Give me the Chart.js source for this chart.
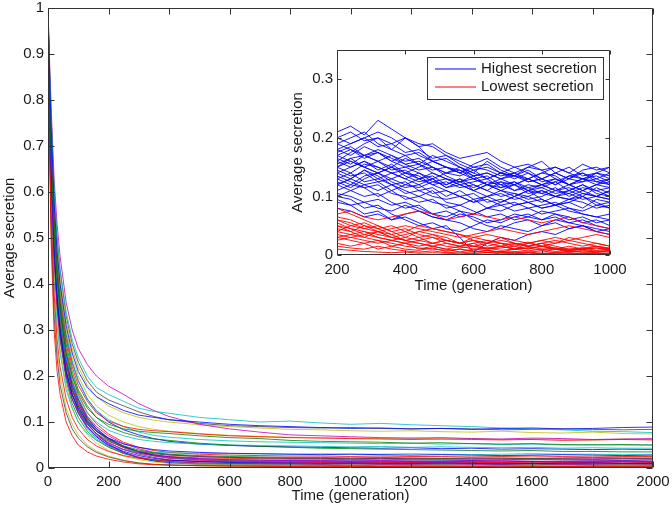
<!DOCTYPE html>
<html><head><meta charset="utf-8">
<script src="https://cdn.jsdelivr.net/npm/chart.js@4.4.1/dist/chart.umd.min.js"></script>
<style>
html,body{margin:0;padding:0;background:#fff;}
#wrap{position:relative;width:672px;height:510px;overflow:hidden;}
#main{position:absolute;left:0;top:0;width:672px;height:510px;}
#inset{position:absolute;left:285px;top:40px;width:345px;height:265px;}
</style></head><body>
<div id="wrap"><canvas id="main" width="672" height="510"></canvas><canvas id="inset" width="345" height="265"></canvas></div>
<script>
// ---------- Main chart data ----------
const gens = [0,5,10,20,30,40,60,80,100,130,160,200,250,300,350,400,500,600,700,800,900,1000,1100,1200,1300,1400,1500,1600,1700,1800,1900,2000];
const s01 = [0.99,0.86,0.75,0.58,0.47,0.4,0.31,0.25,0.21,0.175,0.155,0.14,0.125,0.115,0.11,0.105, 0.1,0.095,0.092,0.09,0.088,0.086,0.087,0.085,0.086,0.084,0.086,0.087,0.085,0.086,0.088,0.089];
const s02 = [0.98,0.82,0.7,0.52,0.41,0.34,0.25,0.2,0.165,0.13,0.11,0.095,0.085,0.08,0.077,0.075, 0.07,0.066,0.064,0.06,0.058,0.057,0.056,0.054,0.055,0.053,0.052,0.053,0.051,0.05,0.051,0.05];
const s03 = [0.98,0.7,0.5,0.3,0.21,0.16,0.1,0.07,0.05,0.035,0.026,0.019,0.013,0.009,0.007,0.006, 0.005,0.004,0.004,0.003,0.004,0.003,0.003,0.004,0.003,0.003,0.004,0.003,0.003,0.004,0.003,0.004];
const s04 = [1.0,0.87,0.77,0.61,0.5,0.43,0.34,0.28,0.24,0.2,0.175,0.16,0.145,0.13,0.123,0.119, 0.11,0.105,0.1,0.102,0.098,0.095,0.097,0.094,0.092,0.09,0.087,0.085,0.083,0.08,0.079,0.077];
const s05 = [1.0,0.89,0.79,0.63,0.53,0.46,0.36,0.3,0.26,0.225,0.2,0.178,0.16,0.14,0.125,0.112, 0.095,0.085,0.078,0.072,0.07,0.068,0.066,0.065,0.066,0.064,0.063,0.065,0.064,0.062,0.063,0.064];
const s06 = [0.99,0.86,0.76,0.59,0.48,0.41,0.32,0.26,0.22,0.18,0.155,0.135,0.12,0.11,0.104,0.1, 0.094,0.09,0.087,0.084,0.083,0.081,0.08,0.081,0.079,0.078,0.08,0.077,0.076,0.078,0.075,0.074];
const s07 = [0.99,0.87,0.77,0.6,0.5,0.43,0.33,0.27,0.23,0.19,0.165,0.148,0.135,0.122,0.112,0.105, 0.097,0.092,0.09,0.088,0.087,0.088,0.086,0.085,0.086,0.085,0.083,0.084,0.085,0.084,0.083,0.084];
const s08 = [0.99,0.8,0.66,0.48,0.37,0.3,0.21,0.16,0.13,0.1,0.08,0.065,0.052,0.045,0.04,0.037, 0.034,0.032,0.031,0.03,0.029,0.03,0.029,0.028,0.029,0.028,0.027,0.028,0.029,0.028,0.027,0.028];
const s09 = [0.98,0.83,0.71,0.54,0.43,0.36,0.27,0.21,0.17,0.135,0.11,0.09,0.077,0.068,0.063,0.06, 0.054,0.05,0.047,0.045,0.043,0.042,0.041,0.04,0.039,0.038,0.037,0.038,0.036,0.036,0.035,0.035];
const s10 = [0.99,0.84,0.72,0.55,0.44,0.37,0.28,0.22,0.18,0.145,0.12,0.102,0.09,0.084,0.081,0.079, 0.074,0.07,0.068,0.066,0.065,0.064,0.063,0.062,0.063,0.062,0.061,0.062,0.06,0.061,0.062,0.061];
const s11 = [0.99,0.82,0.69,0.51,0.4,0.33,0.24,0.19,0.155,0.12,0.1,0.082,0.07,0.062,0.058,0.055, 0.052,0.05,0.049,0.048,0.047,0.046,0.047,0.045,0.046,0.045,0.044,0.045,0.043,0.044,0.043,0.043];
const s12 = [0.98,0.78,0.64,0.46,0.35,0.28,0.2,0.15,0.12,0.09,0.07,0.054,0.04,0.032,0.027,0.024, 0.02,0.018,0.017,0.016,0.016,0.015,0.016,0.015,0.014,0.015,0.016,0.015,0.014,0.015,0.015,0.014];
const s13 = [0.99,0.85,0.74,0.57,0.46,0.39,0.3,0.24,0.2,0.16,0.135,0.115,0.1,0.09,0.084,0.08, 0.075,0.071,0.069,0.067,0.066,0.065,0.064,0.065,0.063,0.064,0.062,0.063,0.062,0.061,0.063,0.062];
const s14 = [0.98,0.79,0.65,0.47,0.36,0.29,0.21,0.16,0.125,0.095,0.075,0.058,0.045,0.036,0.031,0.028, 0.025,0.023,0.022,0.021,0.021,0.02,0.021,0.02,0.02,0.019,0.02,0.021,0.02,0.019,0.02,0.02];
const s15 = [0.99,0.79,0.65,0.47,0.36,0.29,0.2,0.15,0.12,0.088,0.068,0.05,0.036,0.027,0.021,0.017, 0.014,0.012,0.011,0.011,0.01,0.011,0.01,0.01,0.011,0.01,0.009,0.01,0.01,0.011,0.01,0.01];
const s16 = [0.98,0.8,0.67,0.49,0.38,0.31,0.22,0.17,0.135,0.102,0.08,0.062,0.048,0.039,0.033,0.03, 0.027,0.025,0.024,0.023,0.023,0.022,0.023,0.022,0.021,0.022,0.022,0.021,0.022,0.023,0.022,0.022];
const s17 = [0.98,0.74,0.57,0.38,0.28,0.22,0.15,0.11,0.085,0.062,0.048,0.036,0.027,0.021,0.018,0.016, 0.015,0.014,0.013,0.013,0.012,0.013,0.012,0.012,0.013,0.012,0.012,0.011,0.012,0.012,0.013,0.012];
const s18 = [0.98,0.76,0.6,0.41,0.31,0.25,0.17,0.13,0.1,0.075,0.06,0.048,0.04,0.036,0.034,0.033, 0.032,0.031,0.031,0.03,0.031,0.03,0.03,0.031,0.03,0.029,0.03,0.031,0.03,0.03,0.029,0.03];
const s19 = [0.99,0.81,0.67,0.49,0.38,0.3,0.21,0.16,0.125,0.09,0.068,0.048,0.033,0.024,0.018,0.014, 0.011,0.01,0.009,0.009,0.008,0.009,0.008,0.008,0.009,0.008,0.008,0.009,0.008,0.008,0.009,0.008];
const s20 = [0.98,0.77,0.62,0.44,0.33,0.26,0.18,0.13,0.1,0.072,0.054,0.038,0.026,0.018,0.013,0.01, 0.008,0.007,0.007,0.006,0.006,0.007,0.006,0.006,0.006,0.005,0.006,0.006,0.005,0.006,0.006,0.006];
const s21 = [0.98,0.72,0.53,0.33,0.24,0.18,0.12,0.085,0.065,0.046,0.034,0.024,0.016,0.011,0.008,0.007, 0.005,0.005,0.004,0.004,0.004,0.004,0.003,0.004,0.004,0.003,0.004,0.004,0.003,0.004,0.004,0.004];
const s22 = [0.99,0.83,0.7,0.52,0.41,0.34,0.24,0.18,0.145,0.108,0.085,0.064,0.047,0.035,0.028,0.024, 0.02,0.018,0.017,0.016,0.016,0.015,0.016,0.015,0.015,0.016,0.015,0.014,0.015,0.015,0.016,0.015];
const s23 = [0.98,0.78,0.64,0.46,0.35,0.28,0.19,0.14,0.11,0.08,0.061,0.045,0.032,0.023,0.017,0.014, 0.011,0.01,0.009,0.009,0.008,0.009,0.008,0.008,0.008,0.009,0.008,0.008,0.007,0.008,0.008,0.008];
const s24 = [0.99,0.81,0.68,0.5,0.39,0.32,0.23,0.17,0.14,0.105,0.082,0.062,0.046,0.036,0.029,0.025, 0.022,0.021,0.02,0.019,0.019,0.018,0.019,0.018,0.018,0.017,0.018,0.019,0.018,0.018,0.017,0.018];
const s25 = [0.99,0.84,0.73,0.56,0.45,0.38,0.29,0.23,0.19,0.15,0.125,0.105,0.09,0.078,0.071,0.067, 0.062,0.059,0.057,0.056,0.055,0.054,0.053,0.054,0.052,0.053,0.051,0.052,0.05,0.051,0.05,0.05];
const s26 = [0.99,0.82,0.69,0.51,0.4,0.33,0.23,0.175,0.14,0.104,0.08,0.06,0.044,0.033,0.026,0.021, 0.017,0.015,0.014,0.013,0.013,0.012,0.013,0.012,0.012,0.013,0.012,0.011,0.012,0.012,0.013,0.012];
const s27 = [0.98,0.73,0.55,0.36,0.26,0.2,0.13,0.095,0.072,0.05,0.037,0.026,0.017,0.011,0.008,0.006, 0.005,0.004,0.004,0.003,0.003,0.004,0.003,0.003,0.003,0.003,0.004,0.003,0.003,0.003,0.003,0.003];
const s28 = [0.99,0.8,0.66,0.48,0.37,0.3,0.21,0.16,0.128,0.095,0.074,0.055,0.04,0.03,0.023,0.018, 0.014,0.013,0.012,0.011,0.011,0.01,0.011,0.01,0.01,0.011,0.01,0.01,0.009,0.01,0.01,0.01];
const s29 = [0.99,0.82,0.69,0.51,0.4,0.33,0.23,0.17,0.135,0.098,0.074,0.052,0.034,0.022,0.015,0.011, 0.008,0.007,0.006,0.006,0.005,0.006,0.005,0.005,0.005,0.006,0.005,0.005,0.004,0.005,0.005,0.005];
const s30 = [0.99,0.83,0.71,0.53,0.42,0.35,0.25,0.19,0.15,0.11,0.086,0.065,0.047,0.035,0.027,0.022, 0.018,0.016,0.015,0.015,0.014,0.015,0.014,0.014,0.015,0.014,0.013,0.014,0.014,0.015,0.014,0.014];
const s31 = [0.99,0.84,0.72,0.54,0.43,0.36,0.26,0.2,0.16,0.12,0.096,0.074,0.056,0.045,0.038,0.034, 0.03,0.028,0.027,0.026,0.026,0.025,0.026,0.025,0.025,0.024,0.025,0.026,0.025,0.024,0.025,0.025];
const s32 = [0.98,0.79,0.65,0.47,0.36,0.29,0.2,0.15,0.118,0.085,0.064,0.046,0.031,0.022,0.016,0.012, 0.009,0.008,0.008,0.007,0.007,0.006,0.007,0.006,0.006,0.006,0.007,0.006,0.006,0.005,0.006,0.006];
const s33 = [0.99,0.83,0.7,0.52,0.41,0.34,0.24,0.185,0.15,0.113,0.09,0.07,0.053,0.042,0.034,0.029, 0.025,0.023,0.022,0.021,0.021,0.02,0.021,0.02,0.02,0.021,0.02,0.019,0.02,0.02,0.021,0.02];
const s34 = [0.99,0.85,0.74,0.57,0.46,0.39,0.29,0.23,0.19,0.15,0.124,0.1,0.083,0.072,0.064,0.058, 0.052,0.049,0.047,0.046,0.045,0.044,0.043,0.044,0.042,0.043,0.041,0.042,0.041,0.04,0.041,0.04];
const mainSeries = [s01,s02,s03,s04,s05,s06,s07,s08,s09,s10,s11,s12,s13,s14,s15,s16,s17,s18,s19,s20,s21,s22,s23,s24,s25,s26,s27,s28,s29,s30,s31,s32,s33,s34];
const xTicksMain = [0,200,400,600,800,1000,1200,1400,1600,1800,2000];
const yTicksMain = [0,0.1,0.2,0.3,0.4,0.5,0.6,0.7,0.8,0.9,1];

// ---------- Inset data ----------
const insetGens = [200,240,280,320,360,400,440,480,520,560,600,640,680,720,760,800,840,880,920,960,1000];
const b01 = [0.21,0.22,0.205,0.23,0.215,0.2,0.19,0.185,0.17,0.16,0.15,0.155,0.14,0.135,0.145,0.13,0.14,0.15,0.135,0.14,0.15];
const b02 = [0.19,0.2,0.21,0.19,0.18,0.2,0.185,0.16,0.15,0.14,0.155,0.165,0.15,0.14,0.125,0.13,0.12,0.135,0.14,0.125,0.13];
const b03 = [0.17,0.18,0.165,0.175,0.16,0.15,0.155,0.14,0.13,0.125,0.135,0.12,0.13,0.14,0.15,0.145,0.13,0.12,0.125,0.14,0.135];
const b04 = [0.16,0.15,0.16,0.145,0.155,0.14,0.13,0.135,0.12,0.13,0.11,0.12,0.115,0.125,0.11,0.105,0.115,0.1,0.11,0.12,0.115];
const b05 = [0.15,0.165,0.17,0.16,0.15,0.165,0.155,0.17,0.16,0.15,0.14,0.16,0.145,0.135,0.15,0.16,0.14,0.13,0.145,0.15,0.14];
const b06 = [0.14,0.13,0.145,0.135,0.12,0.125,0.11,0.115,0.1,0.11,0.095,0.1,0.09,0.1,0.11,0.095,0.085,0.09,0.08,0.095,0.09];
const b07 = [0.13,0.14,0.125,0.13,0.14,0.13,0.12,0.13,0.115,0.125,0.13,0.12,0.11,0.12,0.13,0.12,0.11,0.115,0.105,0.1,0.11];
const b08 = [0.12,0.11,0.1,0.105,0.09,0.08,0.085,0.07,0.065,0.075,0.06,0.05,0.045,0.055,0.06,0.05,0.055,0.045,0.05,0.04,0.035];
const b09 = [0.2,0.19,0.2,0.185,0.19,0.175,0.18,0.165,0.17,0.155,0.145,0.15,0.14,0.13,0.14,0.125,0.13,0.12,0.13,0.125,0.12];
const b10 = [0.11,0.12,0.115,0.1,0.11,0.095,0.1,0.11,0.09,0.085,0.095,0.08,0.09,0.1,0.09,0.095,0.085,0.09,0.1,0.09,0.08];
const b11 = [0.18,0.17,0.185,0.175,0.16,0.17,0.155,0.145,0.15,0.14,0.13,0.135,0.12,0.125,0.115,0.12,0.13,0.12,0.11,0.12,0.125];
const b12 = [0.09,0.085,0.07,0.075,0.06,0.065,0.055,0.045,0.05,0.03,0.005,0.02,0.03,0.025,0.035,0.04,0.035,0.045,0.05,0.04,0.045];
const b13 = [0.15,0.14,0.155,0.15,0.14,0.13,0.14,0.125,0.12,0.13,0.12,0.11,0.125,0.12,0.105,0.11,0.1,0.11,0.12,0.105,0.1];
const b14 = [0.16,0.175,0.19,0.2,0.19,0.2,0.185,0.19,0.175,0.165,0.17,0.175,0.16,0.15,0.155,0.145,0.15,0.14,0.155,0.145,0.15];
const b15 = [0.13,0.12,0.135,0.14,0.125,0.115,0.12,0.105,0.11,0.1,0.105,0.09,0.095,0.085,0.09,0.08,0.085,0.075,0.07,0.065,0.06];
const b16 = [0.1,0.095,0.08,0.085,0.07,0.06,0.05,0.055,0.045,0.04,0.05,0.06,0.055,0.065,0.07,0.06,0.065,0.055,0.06,0.05,0.045];
const b17 = [0.17,0.16,0.15,0.16,0.145,0.15,0.14,0.13,0.14,0.15,0.135,0.14,0.13,0.12,0.13,0.14,0.135,0.12,0.13,0.135,0.125];
const b18 = [0.14,0.15,0.16,0.15,0.14,0.145,0.13,0.14,0.13,0.12,0.125,0.13,0.115,0.12,0.11,0.115,0.125,0.11,0.1,0.115,0.105];
const b19 = [0.12,0.13,0.12,0.11,0.12,0.105,0.11,0.1,0.095,0.1,0.09,0.1,0.105,0.095,0.1,0.11,0.1,0.095,0.1,0.085,0.09];
const b20 = [0.19,0.18,0.17,0.175,0.165,0.155,0.16,0.15,0.14,0.145,0.135,0.14,0.13,0.135,0.125,0.13,0.14,0.13,0.125,0.13,0.12];
const b21 = [0.08,0.075,0.065,0.07,0.06,0.07,0.075,0.065,0.06,0.07,0.065,0.055,0.06,0.07,0.065,0.06,0.07,0.065,0.055,0.06,0.05];
const b22 = [0.15,0.16,0.15,0.14,0.15,0.135,0.125,0.13,0.115,0.12,0.11,0.12,0.11,0.1,0.11,0.12,0.11,0.105,0.115,0.11,0.1];
const b23 = [0.12,0.13,0.145,0.13,0.12,0.11,0.1,0.09,0.085,0.075,0.07,0.08,0.085,0.075,0.08,0.07,0.075,0.08,0.07,0.065,0.07];
const b24 = [0.2,0.21,0.195,0.2,0.18,0.17,0.175,0.16,0.15,0.145,0.13,0.12,0.125,0.11,0.12,0.115,0.105,0.11,0.12,0.11,0.115];
const b25 = [0.1,0.11,0.12,0.125,0.11,0.12,0.13,0.12,0.11,0.1,0.09,0.095,0.085,0.09,0.08,0.085,0.09,0.08,0.075,0.085,0.08];
const b26 = [0.165,0.155,0.17,0.18,0.17,0.16,0.165,0.15,0.14,0.135,0.145,0.13,0.14,0.15,0.14,0.13,0.12,0.13,0.14,0.13,0.14];
const b27 = [0.135,0.125,0.115,0.12,0.105,0.1,0.09,0.095,0.08,0.085,0.075,0.065,0.07,0.06,0.065,0.075,0.07,0.06,0.065,0.055,0.06];
const b28 = [0.18,0.19,0.2,0.21,0.2,0.185,0.17,0.16,0.165,0.15,0.14,0.13,0.14,0.135,0.13,0.12,0.125,0.135,0.13,0.12,0.13];
const b29 = [0.145,0.135,0.14,0.125,0.13,0.12,0.115,0.125,0.13,0.12,0.11,0.1,0.11,0.105,0.095,0.1,0.11,0.12,0.11,0.1,0.095];
const b30 = [0.105,0.1,0.09,0.095,0.085,0.09,0.08,0.07,0.075,0.065,0.07,0.08,0.075,0.085,0.09,0.08,0.085,0.095,0.09,0.08,0.085];
const b31 = [0.175,0.185,0.17,0.16,0.17,0.155,0.145,0.15,0.135,0.125,0.115,0.125,0.12,0.11,0.115,0.105,0.1,0.105,0.095,0.1,0.095];
const b32 = [0.125,0.115,0.13,0.14,0.15,0.14,0.15,0.16,0.15,0.14,0.15,0.145,0.135,0.14,0.13,0.14,0.15,0.14,0.13,0.14,0.13];
const b33 = [0.095,0.085,0.09,0.08,0.075,0.085,0.075,0.065,0.06,0.055,0.045,0.04,0.05,0.045,0.04,0.05,0.06,0.055,0.05,0.045,0.04];
const b34 = [0.155,0.165,0.15,0.14,0.13,0.14,0.135,0.12,0.125,0.115,0.12,0.11,0.1,0.105,0.1,0.09,0.1,0.095,0.105,0.1,0.11];
const r01 = [0.07,0.075,0.065,0.06,0.065,0.07,0.075,0.07,0.06,0.065,0.07,0.065,0.06,0.065,0.06,0.055,0.06,0.065,0.055,0.05,0.045];
const r02 = [0.08,0.07,0.06,0.05,0.04,0.045,0.035,0.03,0.025,0.02,0.025,0.02,0.015,0.02,0.015,0.02,0.025,0.02,0.015,0.02,0.015];
const r03 = [0.05,0.045,0.04,0.035,0.03,0.025,0.03,0.02,0.025,0.02,0.015,0.012,0.015,0.01,0.012,0.015,0.01,0.008,0.01,0.012,0.008];
const r04 = [0.04,0.035,0.03,0.04,0.035,0.025,0.02,0.015,0.01,0.015,0.02,0.01,0.015,0.01,0.02,0.025,0.02,0.03,0.025,0.02,0.015];
const r05 = [0.06,0.05,0.055,0.045,0.05,0.04,0.05,0.045,0.04,0.035,0.025,0.02,0.03,0.02,0.015,0.02,0.01,0.015,0.01,0.015,0.01];
const r06 = [0.03,0.025,0.02,0.025,0.015,0.02,0.01,0.015,0.01,0.005,0.01,0.008,0.005,0.01,0.012,0.008,0.01,0.005,0.008,0.005,0.007];
const r07 = [0.045,0.04,0.05,0.045,0.035,0.04,0.03,0.035,0.025,0.02,0.025,0.015,0.02,0.01,0.015,0.02,0.015,0.01,0.012,0.015,0.01];
const r08 = [0.02,0.015,0.02,0.01,0.015,0.01,0.008,0.012,0.006,0.01,0.005,0.008,0.004,0.006,0.005,0.007,0.004,0.006,0.005,0.004,0.003];
const r09 = [0.055,0.045,0.035,0.04,0.03,0.035,0.04,0.045,0.04,0.035,0.03,0.035,0.03,0.025,0.02,0.025,0.03,0.025,0.03,0.035,0.03];
const r10 = [0.035,0.03,0.025,0.02,0.025,0.02,0.015,0.02,0.025,0.02,0.03,0.025,0.02,0.015,0.01,0.015,0.01,0.008,0.01,0.006,0.008];
const r11 = [0.01,0.008,0.006,0.005,0.004,0.005,0.003,0.004,0.003,0.002,0.003,0.004,0.002,0.003,0.002,0.003,0.002,0.002,0.003,0.002,0.002];
const r12 = [0.025,0.03,0.035,0.03,0.025,0.03,0.04,0.035,0.03,0.02,0.015,0.02,0.025,0.02,0.015,0.01,0.012,0.008,0.01,0.012,0.01];
const r13 = [0.065,0.06,0.05,0.04,0.03,0.025,0.02,0.015,0.02,0.015,0.01,0.012,0.008,0.01,0.007,0.01,0.006,0.008,0.005,0.007,0.005];
const r14 = [0.015,0.012,0.01,0.015,0.01,0.007,0.005,0.007,0.004,0.005,0.003,0.004,0.005,0.003,0.004,0.002,0.003,0.004,0.002,0.003,0.002];
const r15 = [0.04,0.05,0.045,0.04,0.045,0.05,0.045,0.04,0.035,0.03,0.035,0.04,0.045,0.04,0.035,0.04,0.045,0.05,0.045,0.04,0.035];
const r16 = [0.05,0.04,0.03,0.025,0.02,0.015,0.012,0.01,0.008,0.01,0.007,0.005,0.006,0.004,0.005,0.003,0.004,0.003,0.002,0.003,0.002];
const r17 = [0.03,0.035,0.04,0.03,0.025,0.02,0.025,0.02,0.015,0.012,0.015,0.01,0.012,0.015,0.02,0.015,0.012,0.01,0.012,0.008,0.01];
const r18 = [0.06,0.055,0.045,0.05,0.04,0.03,0.025,0.03,0.02,0.015,0.02,0.025,0.02,0.018,0.022,0.015,0.02,0.025,0.02,0.015,0.012];
const highestSeries = [b01,b02,b03,b04,b05,b06,b07,b08,b09,b10,b11,b12,b13,b14,b15,b16,b17,b18,b19,b20,b21,b22,b23,b24,b25,b26,b27,b28,b29,b30,b31,b32,b33,b34];
const lowestSeries = [r01,r02,r03,r04,r05,r06,r07,r08,r09,r10,r11,r12,r13,r14,r15,r16,r17,r18];
const legendLabels = ['Highest secretion','Lowest secretion'];
const xTicksInset = [200,400,600,800,1000];
const yTicksInset = [0,0.1,0.2,0.3];

// ---------- Styles ----------
const palette = ['#0000ff','#008000','#ff0000','#00bfbf','#bf00bf','#bfbf00','#404040'];
const FONT = '"Liberation Sans", Arial, Helvetica, sans-serif';
Chart.defaults.font.family = FONT;
Chart.defaults.font.size = 15;
Chart.defaults.color = '#1a1a1a';

function boxPlugin(id, tickLen, whiteBg){
  return {
    id,
    beforeDatasetsDraw(chart){
      if(!whiteBg) return;
      const a = chart.chartArea, ctx = chart.ctx;
      ctx.save(); ctx.fillStyle = '#fff';
      ctx.fillRect(a.left, a.top, a.right - a.left, a.bottom - a.top);
      ctx.restore();
    },
    afterDatasetsDraw(chart){
      const {ctx, chartArea:a, scales:{x, y}} = chart;
      ctx.save();
      ctx.strokeStyle = '#333'; ctx.lineWidth = 1;
      const L = Math.round(a.left) + 0.5, R = Math.round(a.right) - 0.5;
      const T = Math.round(a.top) + 0.5, B = Math.round(a.bottom) - 0.5;
      ctx.beginPath();
      ctx.rect(L, T, R - L, B - T);
      x.ticks.forEach(t => {
        const px = Math.round(x.getPixelForValue(t.value)) + 0.5;
        ctx.moveTo(px, B); ctx.lineTo(px, B - tickLen);
        ctx.moveTo(px, T); ctx.lineTo(px, T + tickLen);
      });
      y.ticks.forEach(t => {
        const py = Math.round(y.getPixelForValue(t.value)) + 0.5;
        ctx.moveTo(L, py); ctx.lineTo(L + tickLen, py);
        ctx.moveTo(R, py); ctx.lineTo(R - tickLen, py);
      });
      ctx.stroke();
      ctx.restore();
    }
  };
}

function fmt(v){ return String(Math.round(v * 100) / 100); }
function noPadX(sc, h){ sc.height = h; sc.paddingLeft = 0; sc.paddingRight = 0; }
function noPadY(sc, w){ sc.width = w; sc.paddingTop = 0; sc.paddingBottom = 0; }

// ---------- Main chart ----------
new Chart(document.getElementById('main'), {
  type: 'line',
  data: {
    datasets: mainSeries.map((s, i) => ({
      data: gens.map((g, j) => ({x: g, y: s[j]})),
      borderColor: i === 33 ? palette[0] : palette[i % 7],
      borderWidth: 0.8, pointRadius: 0, fill: false, tension: 0
    }))
  },
  options: {
    responsive: false, animation: false, devicePixelRatio: 1,
    layout: {padding: {left: 0, right: 19, top: 8, bottom: 0}},
    plugins: {legend: {display: false}, tooltip: {enabled: false}},
    scales: {
      x: {
        type: 'linear', min: 0, max: 2000,
        grid: {display: false, drawTicks: false}, border: {display: false},
        afterBuildTicks: sc => { sc.ticks = xTicksMain.map(v => ({value: v})); },
        ticks: {padding: 4.7, maxRotation: 0, autoSkip: false, callback: v => fmt(v)},
        title: {display: true, text: 'Time (generation)', padding: {top: 0, bottom: 5}},
        afterFit: sc => noPadX(sc, 42)
      },
      y: {
        type: 'linear', min: 0, max: 1,
        grid: {display: false, drawTicks: false}, border: {display: false},
        afterBuildTicks: sc => { sc.ticks = yTicksMain.map(v => ({value: v})); },
        ticks: {padding: 4, autoSkip: false, callback: v => fmt(v)},
        title: {display: true, text: 'Average secretion', padding: {top: 0.5, bottom: 0}},
        afterFit: sc => noPadY(sc, 48)
      }
    }
  },
  plugins: [boxPlugin('mainBox', 6, false)]
});

// ---------- Inset chart ----------
const legendPlugin = {
  id: 'insetLegend',
  afterDraw(chart){
    const {ctx, chartArea:a} = chart;
    const w = 176, h = 42;
    const bx = Math.round(a.right) - 7 - w, by = Math.round(a.top) + 7;
    ctx.save();
    ctx.fillStyle = '#fff'; ctx.fillRect(bx, by, w, h);
    ctx.strokeStyle = '#333'; ctx.lineWidth = 1;
    ctx.strokeRect(bx + 0.5, by + 0.5, w, h);
    const cols = ['#0000ff', '#ff0000'];
    const ys = [by + 12, by + 30];
    ctx.font = '15px ' + FONT;
    ctx.textBaseline = 'middle'; ctx.textAlign = 'left';
    for(let k = 0; k < 2; k++){
      ctx.strokeStyle = cols[k]; ctx.lineWidth = 1;
      ctx.beginPath(); ctx.moveTo(bx + 8, ys[k]); ctx.lineTo(bx + 49, ys[k]); ctx.stroke();
      ctx.fillStyle = '#1a1a1a';
      ctx.fillText(legendLabels[k], bx + 54, ys[k]);
    }
    ctx.restore();
  }
};

const insetDatasets = [];
lowestSeries.forEach(s => insetDatasets.push({
  data: insetGens.map((g, j) => ({x: g, y: s[j]})),
  borderColor: '#ff0000', borderWidth: 0.9, pointRadius: 0, fill: false, tension: 0
}));
highestSeries.forEach(s => insetDatasets.push({
  data: insetGens.map((g, j) => ({x: g, y: s[j]})),
  borderColor: '#0000ff', borderWidth: 0.9, pointRadius: 0, fill: false, tension: 0
}));

new Chart(document.getElementById('inset'), {
  type: 'line',
  data: {datasets: insetDatasets},
  options: {
    responsive: false, animation: false, devicePixelRatio: 1,
    layout: {padding: {left: 0, right: 20, top: 10, bottom: 0}},
    plugins: {legend: {display: false}, tooltip: {enabled: false}},
    scales: {
      x: {
        type: 'linear', min: 200, max: 1000,
        grid: {display: false, drawTicks: false}, border: {display: false},
        afterBuildTicks: sc => { sc.ticks = xTicksInset.map(v => ({value: v})); },
        ticks: {padding: 6, maxRotation: 0, autoSkip: false, callback: v => fmt(v)},
        title: {display: true, text: 'Time (generation)', padding: {top: 0, bottom: 10}},
        afterFit: sc => noPadX(sc, 50)
      },
      y: {
        type: 'linear', min: 0, max: 0.35,
        grid: {display: false, drawTicks: false}, border: {display: false},
        afterBuildTicks: sc => { sc.ticks = yTicksInset.map(v => ({value: v})); },
        ticks: {padding: 4, autoSkip: false, callback: v => fmt(v)},
        title: {display: true, text: 'Average secretion', padding: {top: 4, bottom: 0}},
        afterFit: sc => noPadY(sc, 52)
      }
    }
  },
  plugins: [boxPlugin('insetBox', 4, true), legendPlugin]
});
</script>
</body></html>
